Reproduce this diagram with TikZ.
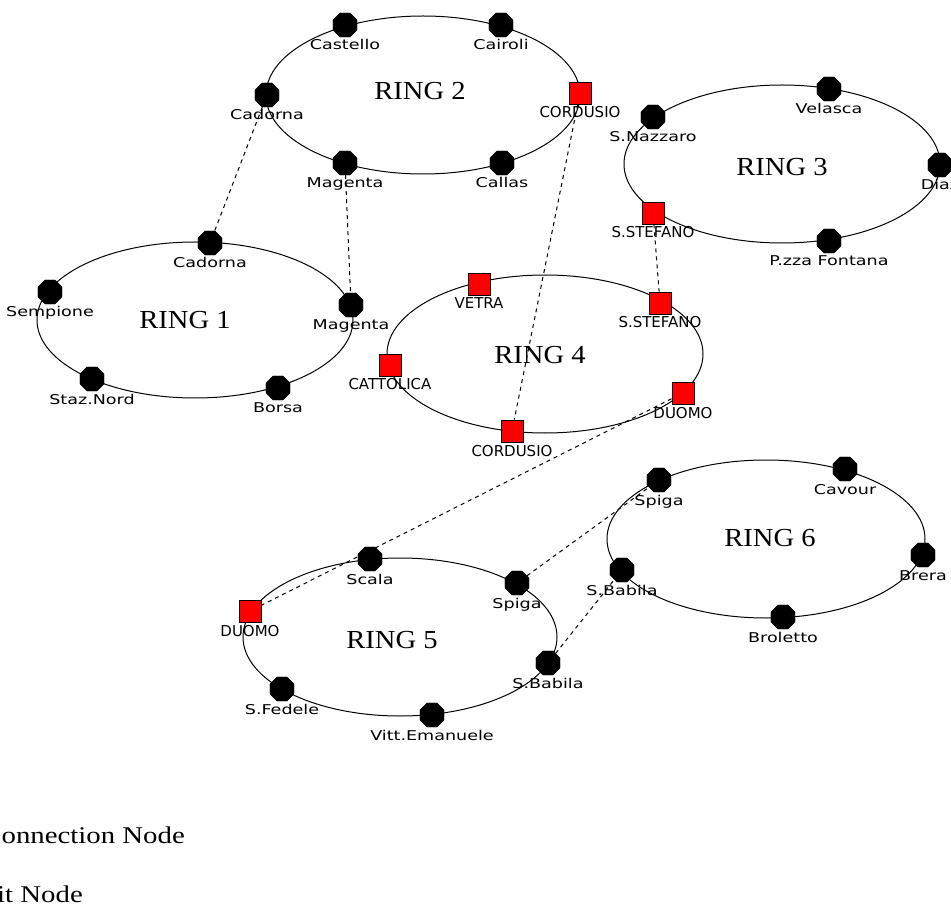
\documentclass[tikz,border=0pt]{standalone}
\usepackage{fontspec}
\setmainfont{Liberation Serif}
\newfontfamily\stationfont[FakeStretch=1.3]{DejaVu Sans}
\newfontfamily\capsfont{DejaVu Sans}
\newfontfamily\ringfont[FakeStretch=1.1]{Liberation Serif}
\newfontfamily\legendfont[FakeStretch=1.2]{Liberation Serif}
\usetikzlibrary{shapes.geometric}

% a station: marker node plus its name set below it
\newcommand\putstation[4]{% style, name, position, text
  \node[#1] (#2) at (#3) {};
  \node[#1lbl] (#2-l) at ([yshift=-25pt]#2.center) {#4};}

\begin{document}
\begin{tikzpicture}[x=1pt,y=-1pt,
  ring/.style={ellipse, draw=black, line width=1pt, inner sep=0pt, fill=none},
  ringname/.style={inner sep=0pt, font=\ringfont\fontsize{26}{26}\selectfont},
  stop/.style={regular polygon, regular polygon sides=8, fill=black, draw=black,
    minimum size=26pt, inner sep=0pt},
  xchg/.style={rectangle, fill=red, draw=black, line width=0.9pt,
    minimum size=22pt, inner sep=0pt},
  stoplbl/.style={anchor=base, inner sep=0pt, font=\stationfont\fontsize{13.5}{13.5}\selectfont},
  xchglbl/.style={anchor=base, inner sep=0pt, font=\capsfont\fontsize{15}{15}\selectfont},
  link/.style={dash pattern=on 4pt off 4pt, line width=1pt},
  legend/.style={anchor=base east, inner sep=0pt, font=\legendfont\fontsize{24}{24}\selectfont},
]
\useasboundingbox (0,0) rectangle (951,909);
\clip (0,0) rectangle (951,909);

% ---- the six rings ----
\node[ring, minimum width=316pt, minimum height=156pt] (ring1) at (195,320) {};
\node[ring, minimum width=314pt, minimum height=158pt] (ring2) at (423,95) {};
\node[ring, minimum width=316pt, minimum height=158pt] (ring3) at (782,164) {};
\node[ring, minimum width=316pt, minimum height=158pt] (ring4) at (545,354) {};
\node[ring, minimum width=314pt, minimum height=158pt] (ring5) at (400,637) {};
\node[ring, minimum width=318pt, minimum height=158pt] (ring6) at (766,539) {};

\node[ringname] (ring1-t) at (185,320) {RING 1};
\node[ringname] (ring2-t) at (420,91) {RING 2};
\node[ringname] (ring3-t) at (782,167) {RING 3};
\node[ringname] (ring4-t) at (540,355) {RING 4};
\node[ringname] (ring5-t) at (392,640) {RING 5};
\node[ringname] (ring6-t) at (770,538) {RING 6};

% ---- ring 1 ----
\putstation{stop}{r1cad}{210,243}{Cadorna}
\putstation{stop}{r1sem}{50,292}{Sempione}
\putstation{stop}{r1mag}{351,305}{Magenta}
\putstation{stop}{r1sta}{92,379}{Staz.Nord}
\putstation{stop}{r1bor}{278,388}{Borsa}

% ---- ring 2 ----
\putstation{stop}{r2cas}{345,25}{Castello}
\putstation{stop}{r2cai}{501,25}{Cairoli}
\putstation{stop}{r2cad}{267,95}{Cadorna}
\putstation{xchg}{r2cor}{580,93}{CORDUSIO}
\putstation{stop}{r2mag}{345,163}{Magenta}
\putstation{stop}{r2cal}{502,163}{Callas}

% ---- ring 3 ----
\putstation{stop}{r3naz}{653,117}{S.Nazzaro}
\putstation{stop}{r3vel}{829,89}{Velasca}
\putstation{stop}{r3dia}{940,165}{Diaz}
\putstation{xchg}{r3ste}{653,213}{S.STEFANO}
\putstation{stop}{r3fon}{829,241}{P.zza Fontana}

% ---- ring 4 ----
\putstation{xchg}{r4vet}{479,284}{VETRA}
\putstation{xchg}{r4ste}{660,303}{S.STEFANO}
\putstation{xchg}{r4cat}{390,365}{CATTOLICA}
\putstation{xchg}{r4duo}{683,393}{DUOMO}
\putstation{xchg}{r4cor}{512,431}{CORDUSIO}

% ---- ring 5 ----
\putstation{stop}{r5sca}{370,559}{Scala}
\putstation{stop}{r5spi}{517,583}{Spiga}
\putstation{xchg}{r5duo}{250,611}{DUOMO}
\putstation{stop}{r5bab}{548,663}{S.Babila}
\putstation{stop}{r5fed}{282,689}{S.Fedele}
\putstation{stop}{r5vit}{432,715}{Vitt.Emanuele}

% ---- ring 6 ----
\putstation{stop}{r6spi}{659,480}{Spiga}
\putstation{stop}{r6cav}{845,469}{Cavour}
\putstation{stop}{r6bre}{923,555}{Brera}
\putstation{stop}{r6bab}{622,570}{S.Babila}
\putstation{stop}{r6bro}{783,617}{Broletto}

% ---- interchange links between rings ----
\draw[link] (r2cad) -- (r1cad);
\draw[link] (r2mag) -- (r1mag);
\draw[link] (r2cor) -- (r4cor);
\draw[link] (r3ste) -- (r4ste);
\draw[link] (r4duo) -- (r5duo);
\draw[link] (r5spi) -- (r6spi);
\draw[link] (r5bab) -- (r6bab);

% ---- legend ----
\node[legend] (leg1) at (185,843) {Connection Node};
\node[legend] (leg2) at (83,902) {Transit Node};
\end{tikzpicture}
\end{document}
